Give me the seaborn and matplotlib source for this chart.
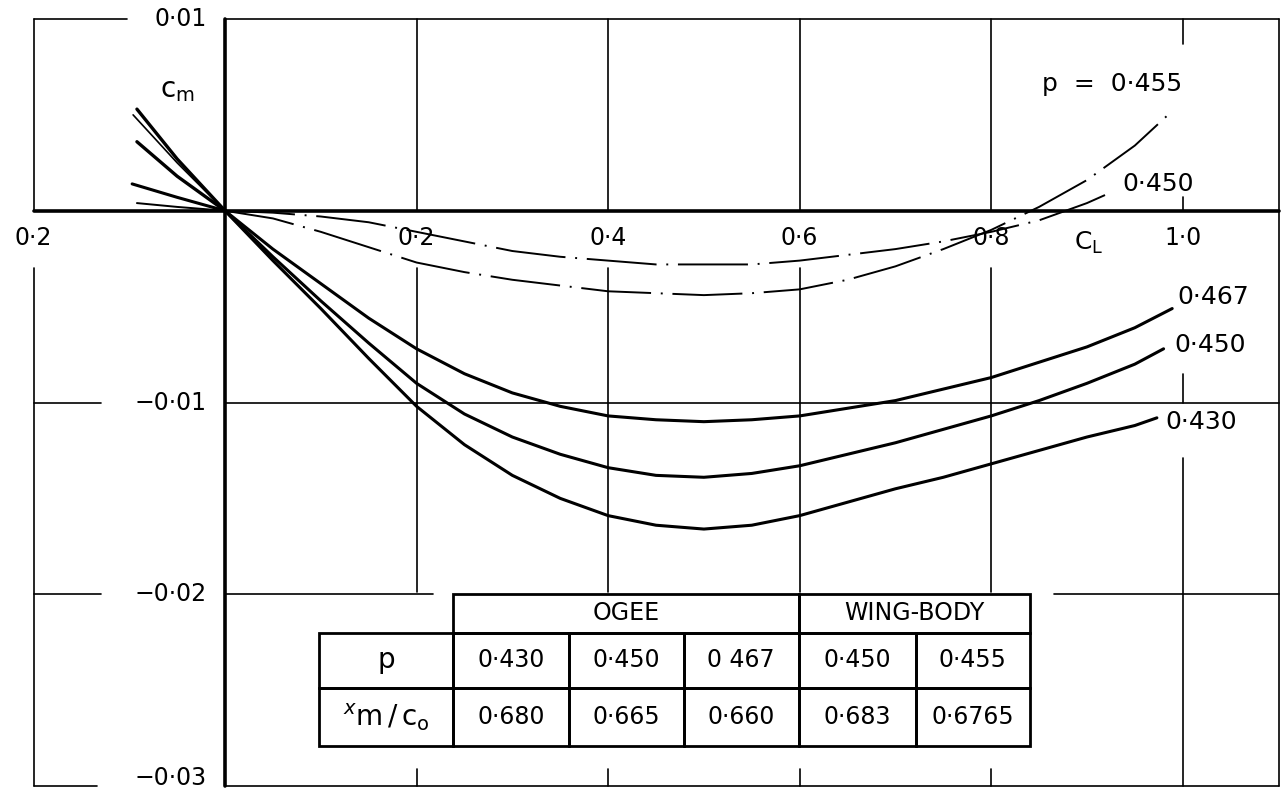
import numpy as np
import pandas as pd
import seaborn as sns
import matplotlib
matplotlib.use("Agg")
from matplotlib import pyplot as plt
from matplotlib.patches import Rectangle

# Cm against CL
cl_430 = [-0.092, -0.05, 0.0, 0.05, 0.1, 0.15, 0.2, 0.25, 0.3, 0.35, 0.4, 0.45, 0.5, 0.55, 0.6, 0.65, 0.7, 0.75, 0.8, 0.85, 0.9, 0.95, 0.973]
cm_430 = [0.0053, 0.0027, 0.0, -0.0026, -0.0051, -0.0077, -0.0102, -0.0122, -0.0138, -0.0150, -0.0159, -0.0164, -0.0166, -0.0164, -0.0159, -0.0152, -0.0145, -0.0139, -0.0132, -0.0125, -0.0118, -0.0112, -0.0108]

cl_450 = [-0.096, -0.05, 0.0, 0.05, 0.1, 0.15, 0.2, 0.25, 0.3, 0.35, 0.4, 0.45, 0.5, 0.55, 0.6, 0.65, 0.7, 0.75, 0.8, 0.85, 0.9, 0.95, 0.98]
cm_450 = [0.0050, 0.0025, 0.0, -0.0024, -0.0047, -0.0069, -0.0090, -0.0106, -0.0118, -0.0127, -0.0134, -0.0138, -0.0139, -0.0137, -0.0133, -0.0127, -0.0121, -0.0114, -0.0107, -0.0099, -0.0090, -0.0080, -0.0072]

cl_467 = [-0.092, -0.05, 0.0, 0.05, 0.1, 0.15, 0.2, 0.25, 0.3, 0.35, 0.4, 0.45, 0.5, 0.55, 0.6, 0.65, 0.7, 0.75, 0.8, 0.85, 0.9, 0.95, 0.989]
cm_467 = [0.0036, 0.0018, 0.0, -0.0020, -0.0038, -0.0056, -0.0072, -0.0085, -0.0095, -0.0102, -0.0107, -0.0109, -0.0110, -0.0109, -0.0107, -0.0103, -0.0099, -0.0093, -0.0087, -0.0079, -0.0071, -0.0061, -0.0051]

# wing-body curves (chain lines)
cl_wb455 = [-0.097, -0.05, 0.0, 0.05, 0.1, 0.15, 0.2, 0.25, 0.3, 0.35, 0.4, 0.45, 0.5, 0.55, 0.6, 0.65, 0.7, 0.75, 0.8, 0.85, 0.9, 0.95, 0.989]
cm_wb455 = [0.0014, 0.0007, 0.0, -0.0004, -0.0011, -0.0019, -0.0027, -0.0032, -0.0036, -0.0039, -0.0042, -0.0043, -0.0044, -0.0043, -0.0041, -0.0036, -0.0029, -0.0020, -0.0010, 0.0002, 0.0016, 0.0034, 0.0052]

cl_wb450 = [-0.092, -0.05, 0.0, 0.05, 0.1, 0.15, 0.2, 0.25, 0.3, 0.35, 0.4, 0.45, 0.5, 0.55, 0.6, 0.65, 0.7, 0.75, 0.8, 0.85, 0.9, 0.927]
cm_wb450 = [0.0004, 0.0002, 0.0, -0.0001, -0.0003, -0.0006, -0.0011, -0.0016, -0.0021, -0.0024, -0.0026, -0.0028, -0.0028, -0.0028, -0.0026, -0.0023, -0.0020, -0.0016, -0.0011, -0.0005, 0.0004, 0.0010]

curve_names = ['0·430', '0·450', '0·467', 'wb 0·455', 'wb 0·450']
curve_labels = ['0·430', '0·450', '0·467', 'p  =  0·455', '0·450']

# table contents
table_groups = ['OGEE', 'WING-BODY']
table_rows = ['p', r'$^{x}\mathregular{m}\,/\,\mathregular{c_o}$']
p_values = ['0·430', '0·450', '0 467', '0·450', '0·455']
xm_values = ['0·680', '0·665', '0·660', '0·683', '0·6765']

x_ticks = [-0.2, 0.2, 0.4, 0.6, 0.8, 1.0]
x_tick_labels = ['0·2', '0·2', '0·4', '0·6', '0·8', '1·0']
y_ticks = [0.01, -0.01, -0.02, -0.03]
y_tick_labels = ['0·01', '−0·01', '−0·02', '−0·03']

frames = []
for name, cl, cm in zip(curve_names,
                        [cl_430, cl_450, cl_467, cl_wb455, cl_wb450],
                        [cm_430, cm_450, cm_467, cm_wb455, cm_wb450]):
    frames.append(pd.DataFrame({'curve': name, 'CL': cl, 'Cm': cm}))
df = pd.concat(frames, ignore_index=True)

sns.set_style("white")
plt.rcParams['font.family'] = ['DejaVu Sans']
plt.rcParams['mathtext.fontset'] = 'dejavusans'
plt.rcParams['text.color'] = 'black'

fig = plt.figure(figsize=(12.84, 7.95), dpi=100)
ax = fig.add_axes([33.5 / 1284, 1 - 786 / 795, 1245 / 1284, 767 / 795])
ax.set_xlim(-0.2, 1.1)
ax.set_ylim(-0.03, 0.01)
ax.axis('off')

# grid drawn as broken segments, the way the drawing leaves room for the lettering
grid_v = [(-0.2, 0.0, 0.01), (-0.2, -0.03, -0.003),
          (1.0, 0.0087, 0.01), (1.0, 0.0, 0.0007), (1.0, -0.0100, -0.0085), (1.0, -0.03, -0.0129),
          (1.1, -0.03, 0.01)]
for gx in [0.2, 0.4, 0.6, 0.8]:
    grid_v += [(gx, 0.0, 0.01), (gx, -0.0199, -0.003), (gx, -0.03, -0.0291)]
grid_h = [(0.01, -0.2, -0.102), (0.01, 0.0, 1.1),
          (-0.01, -0.2, -0.13), (-0.01, 0.0, 1.1),
          (-0.02, -0.2, -0.13), (-0.02, 0.0, 0.217), (-0.02, 0.866, 1.1),
          (-0.03, -0.2, -0.134), (-0.03, 0.0, 1.1)]
for gx, y0, y1 in grid_v:
    ax.plot([gx, gx], [y0, y1], color='black', lw=1.2, clip_on=False, zorder=1)
for gy, x0, x1 in grid_h:
    ax.plot([x0, x1], [gy, gy], color='black', lw=1.2, clip_on=False, zorder=1)

# main axes through the origin
ax.plot([0, 0], [-0.03, 0.01], color='black', lw=2.6, clip_on=False, zorder=2)
ax.plot([-0.2, 1.1], [0, 0], color='black', lw=2.6, clip_on=False, zorder=2)

chain = (0, (36, 5, 1, 5))
styles = {
    '0·430': dict(lw=2.2, ls='-'),
    '0·450': dict(lw=2.2, ls='-'),
    '0·467': dict(lw=2.2, ls='-'),
    'wb 0·455': dict(lw=1.4, ls=chain),
    'wb 0·450': dict(lw=1.4, ls=chain),
}
left_lw = {'0·430': 2.4, '0·450': 1.2, '0·467': 2.4, 'wb 0·455': 2.2, 'wb 0·450': 1.4}

for name in curve_names:
    d = df[df['curve'] == name]
    right = d[d['CL'] >= 0]
    left = d[d['CL'] <= 0]
    sns.lineplot(data=right, x='CL', y='Cm', ax=ax, color='black', estimator=None,
                 linewidth=styles[name]['lw'], linestyle=styles[name]['ls'], zorder=3)
    sns.lineplot(data=left, x='CL', y='Cm', ax=ax, color='black', estimator=None,
                 linewidth=left_lw[name], linestyle='-', zorder=3)

# curve labels at the right-hand ends
label_pos = {'0·430': (0.982, -0.0110), '0·450': (0.991, -0.0070), '0·467': (0.994, -0.0045),
             'wb 0·455': (0.853, 0.0066), 'wb 0·450': (0.937, 0.0014)}
fs = 17
for name, lab in zip(curve_names, curve_labels):
    lx, ly = label_pos[name]
    ax.text(lx, ly, lab, ha='left', va='center', fontsize=18, color='black', zorder=5)

# tick lettering
for tx, tl in zip(x_ticks, x_tick_labels):
    ax.text(tx, -0.0014, tl, ha='center', va='center', fontsize=fs, color='black', zorder=5)
for ty, tl in zip(y_ticks, y_tick_labels):
    ty_text = max(ty, -0.0296)
    ax.text(-0.019, ty_text, tl, ha='right', va='center', fontsize=fs, color='black', zorder=5)

ax.text(-0.068, 0.0063, r'$\mathregular{c_m}$', ha='left', va='center', fontsize=20, color='black', zorder=5)
ax.text(0.886, -0.0017, r'$\mathregular{C_L}$', ha='left', va='center', fontsize=18, color='black', zorder=5)

# table
col_edges = [0.098, 0.238, 0.359, 0.479, 0.599, 0.721, 0.840]
row_edges = [-0.0200, -0.0220, -0.0249, -0.0279]
tlw = 2.0
# header
ax.add_patch(Rectangle((col_edges[1], row_edges[1]), col_edges[4] - col_edges[1],
                       row_edges[0] - row_edges[1], fill=False, edgecolor='black', lw=tlw, zorder=4))
ax.add_patch(Rectangle((col_edges[4], row_edges[1]), col_edges[6] - col_edges[4],
                       row_edges[0] - row_edges[1], fill=False, edgecolor='black', lw=tlw, zorder=4))
ax.text((col_edges[1] + col_edges[4]) / 2, (row_edges[0] + row_edges[1]) / 2, table_groups[0],
        ha='center', va='center', fontsize=fs, color='black', zorder=5)
ax.text((col_edges[4] + col_edges[6]) / 2, (row_edges[0] + row_edges[1]) / 2, table_groups[1],
        ha='center', va='center', fontsize=fs, color='black', zorder=5)
# body
for r, values in enumerate([p_values, xm_values]):
    y_top, y_bot = row_edges[r + 1], row_edges[r + 2]
    cells = [table_rows[r]] + values
    for c, txt in enumerate(cells):
        x0, x1 = col_edges[c], col_edges[c + 1]
        ax.add_patch(Rectangle((x0, y_bot), x1 - x0, y_top - y_bot, fill=False,
                               edgecolor='black', lw=tlw, zorder=4))
        ax.text((x0 + x1) / 2, (y_top + y_bot) / 2, txt, ha='center', va='center',
                fontsize=(fs + 3 if c == 0 else fs), color='black', zorder=5)

fig.savefig("out.png", dpi=100)
